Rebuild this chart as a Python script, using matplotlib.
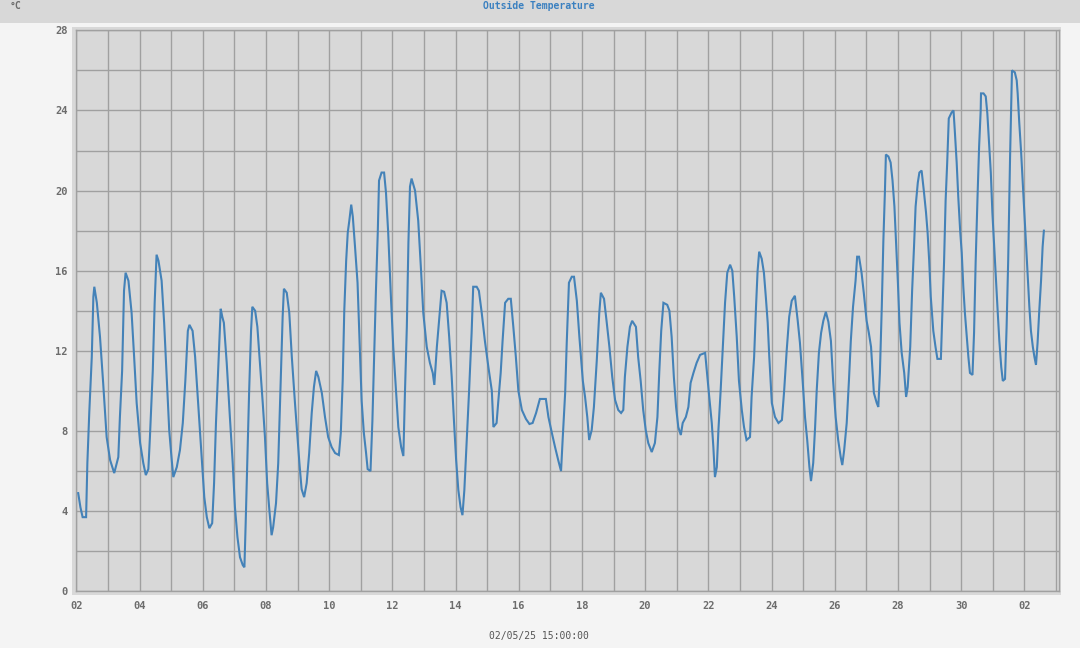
import matplotlib
matplotlib.use("Agg")
import matplotlib.pyplot as plt
from matplotlib.patches import Rectangle

# ---- data: days since 02 Apr 00:00, outside temperature in °C ----
days = [0.06, 0.13, 0.2, 0.31, 0.35, 0.41, 0.49, 0.54, 0.57, 0.65, 0.75, 0.85, 0.96, 1.07, 1.20, 1.33, 1.38, 1.45, 1.51, 1.56, 1.65, 1.75, 1.83, 1.91, 2.02, 2.12, 2.20, 2.28, 2.33, 2.42, 2.48, 2.54, 2.60, 2.70, 2.78, 2.86, 2.94, 3.02, 3.07, 3.18, 3.28, 3.37, 3.45, 3.53, 3.58, 3.68, 3.76, 3.83, 3.91, 3.99, 4.05, 4.13, 4.21, 4.30, 4.36, 4.42, 4.49, 4.57, 4.62, 4.67, 4.76, 4.86, 4.95, 5.02, 5.10, 5.18, 5.27, 5.32, 5.36, 5.41, 5.47, 5.53, 5.57, 5.66, 5.73, 5.81, 5.90, 5.97, 6.04, 6.11, 6.18, 6.23, 6.32, 6.39, 6.47, 6.53, 6.57, 6.66, 6.74, 6.82, 6.92, 6.99, 7.06, 7.13, 7.21, 7.29, 7.37, 7.45, 7.52, 7.59, 7.66, 7.77, 7.87, 7.97, 8.08, 8.19, 8.31, 8.37, 8.43, 8.48, 8.54, 8.59, 8.64, 8.70, 8.75, 8.82, 8.90, 8.96, 9.03, 9.10, 9.17, 9.22, 9.31, 9.37, 9.42, 9.48, 9.54, 9.58, 9.66, 9.74, 9.80, 9.87, 9.95, 10.03, 10.12, 10.19, 10.28, 10.35, 10.40, 10.46, 10.51, 10.56, 10.61, 10.72, 10.82, 10.91, 10.98, 11.09, 11.19, 11.28, 11.33, 11.41, 11.49, 11.56, 11.64, 11.72, 11.80, 11.88, 11.95, 12.02, 12.09, 12.16, 12.22, 12.28, 12.35, 12.43, 12.51, 12.56, 12.67, 12.74, 12.83, 12.93, 13.04, 13.15, 13.20, 13.30, 13.35, 13.43, 13.49, 13.57, 13.67, 13.75, 13.83, 13.91, 13.99, 14.10, 14.23, 14.34, 14.44, 14.55, 14.67, 14.86, 14.94, 15.05, 15.15, 15.25, 15.34, 15.39, 15.47, 15.52, 15.59, 15.68, 15.75, 15.84, 15.92, 16.03, 16.10, 16.17, 16.23, 16.31, 16.38, 16.47, 16.55, 16.60, 16.70, 16.78, 16.87, 16.96, 17.05, 17.15, 17.24, 17.31, 17.36, 17.44, 17.52, 17.59, 17.71, 17.78, 17.86, 17.94, 18.02, 18.10, 18.21, 18.31, 18.39, 18.45, 18.51, 18.58, 18.70, 18.77, 18.84, 18.91, 18.98, 19.05, 19.13, 19.19, 19.29, 19.37, 19.44, 19.53, 19.63, 19.74, 19.90, 19.97, 20.03, 20.11, 20.16, 20.21, 20.27, 20.32, 20.39, 20.46, 20.53, 20.60, 20.69, 20.76, 20.82, 20.90, 20.97, 21.06, 21.13, 21.21, 21.32, 21.37, 21.45, 21.51, 21.56, 21.61, 21.69, 21.76, 21.82, 21.88, 21.93, 22.01, 22.11, 22.22, 22.33, 22.40, 22.48, 22.56, 22.64, 22.74, 22.83, 22.90, 22.99, 23.06, 23.13, 23.20, 23.25, 23.32, 23.38, 23.43, 23.50, 23.57, 23.64, 23.72, 23.80, 23.88, 23.95, 24.03, 24.11, 24.19, 24.24, 24.30, 24.38, 24.45, 24.51, 24.58, 24.66, 24.71, 24.77, 24.85, 24.92, 25.01, 25.08, 25.15, 25.20, 25.24, 25.33, 25.38, 25.43, 25.49, 25.54, 25.59, 25.62, 25.70, 25.77, 25.83, 25.89, 25.94, 26.00, 26.05, 26.12, 26.20, 26.26, 26.31, 26.39, 26.45, 26.51, 26.56, 26.63, 26.68, 26.75, 26.82, 26.89, 26.94, 26.99, 27.04, 27.12, 27.19, 27.25, 27.36, 27.40, 27.46, 27.51, 27.56, 27.61, 27.70, 27.76, 27.80, 27.86, 27.91, 27.97, 28.02, 28.07, 28.12, 28.18, 28.23, 28.28, 28.36, 28.41, 28.46, 28.52, 28.57, 28.62, 28.63, 28.71, 28.78, 28.83, 28.88, 28.94, 28.99, 29.04, 29.10, 29.16, 29.21, 29.27, 29.32, 29.39, 29.44, 29.49, 29.55, 29.61, 29.70, 29.76, 29.79, 29.84, 29.90, 29.95, 30.00, 30.05, 30.11, 30.16, 30.21, 30.27, 30.32, 30.37, 30.42, 30.47, 30.53, 30.58, 30.62]
temps = [4.9, 4.2, 3.7, 3.7, 6.4, 8.9, 11.7, 14.7, 15.2, 14.4, 12.7, 10.4, 7.7, 6.55, 5.9, 6.7, 8.7, 11.0, 15.0, 15.9, 15.5, 13.9, 11.7, 9.4, 7.4, 6.4, 5.8, 6.1, 7.7, 11.0, 14.4, 16.8, 16.5, 15.5, 13.4, 10.7, 8.05, 6.55, 5.7, 6.2, 7.05, 8.4, 10.5, 13.0, 13.3, 13.0, 11.7, 10.0, 8.05, 6.05, 4.7, 3.7, 3.15, 3.4, 5.4, 8.4, 11.0, 14.1, 13.7, 13.4, 11.4, 8.7, 6.4, 4.2, 2.7, 1.7, 1.3, 1.2, 3.4, 6.4, 10.0, 13.0, 14.2, 14.0, 13.2, 11.4, 9.4, 7.7, 5.4, 4.05, 2.8, 3.2, 4.4, 6.4, 10.5, 13.7, 15.1, 14.9, 13.9, 11.7, 9.4, 7.9, 6.4, 5.1, 4.7, 5.4, 6.9, 8.9, 10.2, 11.0, 10.7, 9.9, 8.7, 7.7, 7.2, 6.9, 6.8, 7.9, 10.5, 14.0, 16.5, 17.9, 18.5, 19.3, 18.7, 17.2, 15.4, 12.7, 9.5, 7.9, 6.9, 6.1, 6.0, 8.5, 11.5, 14.9, 17.9, 20.5, 20.9, 20.9, 19.9, 17.9, 14.9, 12.2, 9.9, 8.2, 7.2, 6.75, 9.9, 13.2, 17.4, 20.2, 20.6, 20.0, 18.5, 16.0, 13.9, 12.2, 11.4, 10.9, 10.3, 12.2, 13.7, 15.0, 14.95, 14.4, 12.7, 10.7, 8.55, 6.55, 5.05, 4.2, 3.8, 5.05, 7.4, 10.0, 12.9, 15.2, 15.2, 15.0, 13.9, 12.5, 11.2, 10.0, 8.2, 8.4, 9.4, 10.9, 12.5, 14.4, 14.6, 14.6, 13.2, 11.7, 10.0, 9.05, 8.6, 8.35, 8.4, 8.9, 9.6, 9.6, 8.7, 7.9, 7.2, 6.55, 6.0, 7.55, 9.9, 12.4, 15.4, 15.7, 15.7, 14.5, 12.7, 10.5, 9.7, 8.7, 7.55, 8.05, 9.2, 11.5, 13.9, 14.9, 14.6, 13.5, 12.2, 10.7, 9.55, 9.05, 8.9, 9.05, 10.7, 12.2, 13.2, 13.5, 13.2, 11.7, 10.5, 9.05, 8.05, 7.4, 6.95, 7.4, 8.7, 11.0, 13.0, 14.4, 14.3, 14.0, 12.7, 10.7, 9.2, 8.2, 7.8, 8.4, 8.7, 9.2, 10.4, 10.9, 11.4, 11.8, 11.9, 10.7, 9.7, 8.4, 7.2, 5.7, 6.2, 8.05, 10.0, 12.2, 14.4, 15.9, 16.3, 16.0, 14.7, 12.7, 10.5, 9.05, 8.2, 7.55, 7.7, 9.7, 11.7, 14.2, 16.0, 16.95, 16.6, 15.9, 14.7, 13.4, 11.7, 9.4, 8.7, 8.4, 8.55, 10.0, 12.0, 13.7, 14.5, 14.75, 13.5, 12.4, 10.4, 8.7, 7.55, 6.2, 5.5, 6.4, 8.2, 10.0, 11.9, 12.9, 13.5, 13.95, 13.45, 12.5, 10.5, 8.7, 7.55, 6.7, 6.3, 7.05, 8.4, 10.5, 12.5, 14.2, 15.5, 16.7, 16.7, 15.9, 14.9, 13.5, 12.9, 12.2, 10.9, 9.9, 9.4, 9.2, 10.9, 14.2, 17.5, 20.0, 21.8, 21.7, 21.4, 20.5, 19.2, 17.5, 15.4, 13.4, 11.9, 10.9, 9.7, 10.2, 12.2, 15.0, 17.2, 19.2, 20.4, 20.9, 21.0, 20.0, 18.9, 17.9, 16.5, 14.7, 13.0, 12.2, 11.6, 11.6, 13.5, 16.4, 19.5, 21.4, 23.6, 23.9, 24.0, 23.0, 21.4, 19.7, 18.0, 16.9, 15.2, 13.9, 12.7, 11.7, 10.9, 10.8, 12.9, 16.4, 19.7, 22.2, 24.0, 24.85, 24.85, 24.7, 23.85, 22.5, 20.9, 18.9, 17.4, 15.5, 13.9, 12.5, 11.2, 10.5, 10.6, 13.2, 16.5, 21.7, 26.0, 25.9, 25.5, 24.85, 23.4, 21.9, 20.4, 18.9, 17.4, 15.5, 14.2, 13.0, 12.2, 11.7, 11.3, 12.4, 13.9, 15.5, 17.2, 18.0]

x_tick_pos = list(range(0, 32, 2))
x_tick_labels = ["02", "04", "06", "08", "10", "12", "14", "16", "18", "20",
                 "22", "24", "26", "28", "30", "02"]
y_tick_pos = [0, 4, 8, 12, 16, 20, 24, 28]
title = "Outside Temperature"
unit = "°C"
footer = "02/05/25 15:00:00"

# ---- styles ----
BG = "#f4f4f4"
PANEL = "#d8d8d8"
GRID = "#a0a0a0"
LINE = "#4482b8"
TXT = "#6c6c6c"
W, H = 1080, 648
mono = ["DejaVu Sans Mono"]

fig = plt.figure(figsize=(W / 100, H / 100), dpi=100, facecolor=BG)

def fx(px):
    return px / W

def fy(py):
    return 1 - py / H

# title band
fig.patches.append(Rectangle((0, fy(22.5)), 1, 22.5 / H, transform=fig.transFigure,
                             facecolor=PANEL, edgecolor="none", zorder=-5))
# plot panel
fig.patches.append(Rectangle((fx(72), fy(595)), (1061 - 72) / W, (595 - 27) / H,
                             transform=fig.transFigure, facecolor=PANEL,
                             edgecolor="none", zorder=-5))

L, R, T, B = 76.3, 1058.7, 30.3, 591.3
ax = fig.add_axes([fx(L), fy(B), (R - L) / W, (B - T) / H])
ax.set_zorder(2)
ax.set_facecolor(PANEL)
ax.plot(days, temps, color=LINE, lw=1.5, solid_joinstyle="miter", zorder=3)

xmax = (R - L) / 31.6
ax.set_xlim(0, xmax)
ax.set_ylim(0, 28)
ax.set_xticks(range(0, 32))
ax.set_xticklabels([x_tick_labels[i // 2] if i % 2 == 0 else "" for i in range(0, 32)])
ax.set_yticks(range(0, 29, 2))
ax.set_yticklabels([str(v) if v in y_tick_pos else "" for v in range(0, 29, 2)])
ax.grid(True, color=GRID, lw=1.0, zorder=1)
ax.set_axisbelow(True)
ax.tick_params(length=0, colors=TXT, labelsize=7.5)
ax.tick_params(axis="x", pad=7)
ax.tick_params(axis="y", pad=6)
for lab in ax.get_xticklabels() + ax.get_yticklabels():
    lab.set_fontfamily(mono)
    lab.set_fontweight("bold")
for s in ax.spines.values():
    s.set_color(GRID)
    s.set_linewidth(1.0)

fig.text(fx(539), fy(6), title, ha="center", va="center", color="#3a80c0",
         fontsize=7, fontweight="bold", family=mono)
fig.text(fx(10), fy(6), unit, ha="left", va="center", color=TXT,
         fontsize=7, fontweight="bold", family=mono)
fig.text(fx(539), fy(636), footer, ha="center", va="center", color="#555555",
         fontsize=7, family=mono)

fig.savefig("out.png", dpi=100, facecolor=BG)
